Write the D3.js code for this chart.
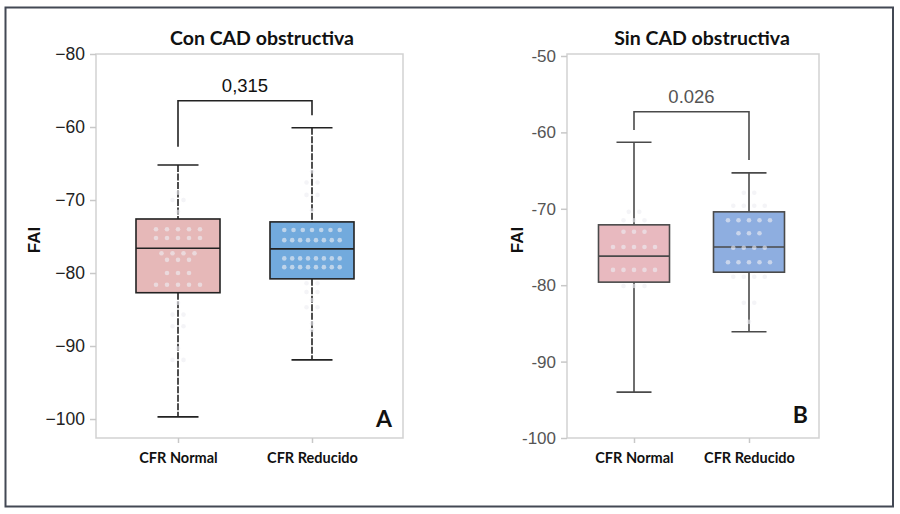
<!DOCTYPE html>
<html><head><meta charset="utf-8">
<script src="https://cdn.jsdelivr.net/npm/d3@7/dist/d3.min.js"></script>
<style>body{margin:0;background:#fff}svg{display:block}</style>
</head><body>
<svg id="c" width="900" height="514"></svg>
<script>
// ---- data ----
const categories = ["CFR Normal", "CFR Reducido"];
const titles = ["Con CAD obstructiva", "Sin CAD obstructiva"];
const panelLetters = ["A", "B"];
const pValues = ["0,315", "0.026"];
const tickValues = [-50, -60, -70, -80, -90, -100];
const tickLabelsA = ["\u221280", "\u221260", "\u221270", "\u221280", "\u221290", "\u2212100"];
const tickLabelsB = ["-50", "-60", "-70", "-80", "-90", "-100"];

// box statistics [CFR Normal, CFR Reducido]
const minA = [-99.7, -91.9], q1A = [-82.7, -80.8], medA = [-76.6, -76.7], q3A = [-72.6, -73.0], maxA = [-65.2, -60.1];
const minB = [-94.0, -86.1], q1B = [-79.6, -78.3], medB = [-76.2, -75.0], q3B = [-72.1, -70.4], maxB = [-61.3, -65.3];

// bracket: [top, left leg end, right leg end]
const bracketA = [-56.4, -62.7, -58.4];
const bracketB = [-57.3, -59.7, -63.6];

// jittered points
const pointsA_normal = [-69.0, -70.0, -70.0, -71.6,
  -74.0, -74.0, -74.0, -74.0, -74.0, -75.2, -75.2, -75.2, -75.2, -75.2,
  -77.3, -77.3, -77.3, -77.3, -78.2, -78.2, -78.2, -80.0, -80.0, -80.0,
  -81.6, -81.6, -81.6, -81.6, -81.6,
  -84.1, -85.7, -85.7, -87.3, -87.3, -90.3, -91.9, -91.9];
const pointsA_reducido = [-66.1, -67.6, -67.6, -69.3, -69.3, -71.4,
  -74.1, -74.1, -74.1, -74.1, -74.1, -74.1, -74.1,
  -75.5, -75.5, -75.5, -75.5, -75.5, -75.5, -75.5, -75.5,
  -78.0, -78.0, -78.0, -78.0, -78.0, -78.0, -78.0, -78.0,
  -79.2, -79.2, -79.2, -79.2, -79.2, -79.2, -79.2, -79.2,
  -81.4, -81.4, -82.6, -82.6, -83.7, -84.7, -84.7, -86.9, -87.8];
const pointsB_normal = [-70.4, -70.4, -71.5, -71.5, -71.5,
  -73.0, -73.0, -73.0, -75.0, -75.0, -75.0, -75.0, -75.0,
  -78.0, -78.0, -78.0, -78.0, -78.0, -80.1, -80.1, -80.1];
const pointsB_reducido = [-67.9, -67.9, -69.6, -69.6, -69.6, -69.6,
  -71.5, -71.5, -71.5, -71.5, -71.5, -73.2, -73.2, -73.2,
  -75.1, -75.1, -75.1, -75.1, -77.0, -77.0, -77.0, -77.0, -77.0,
  -78.9, -78.9, -78.9, -78.9, -82.3, -82.3, -84.8];

// ---- drawing ----
const svg = d3.select("#c");
svg.append("rect").attr("x", 5.5).attr("y", 7.5).attr("width", 887.5).attr("height", 499)
  .attr("fill", "none").attr("stroke", "#434854").attr("stroke-width", 2);

function panel(cfg) {
  const g = svg.append("g");
  const y = d3.scaleLinear().domain(cfg.domain).range([cfg.bottom, cfg.top]);
  const x = d3.scalePoint().domain(categories).range([cfg.left + cfg.gapL, cfg.right - cfg.gapR]);

  // frame
  g.append("rect").attr("x", cfg.left).attr("y", cfg.top).attr("width", cfg.right - cfg.left)
    .attr("height", cfg.bottom - cfg.top).attr("fill", "none").attr("stroke", "#d2d2d2").attr("stroke-width", 1.5);

  // y axis
  const ya = g.append("g").attr("transform", `translate(${cfg.left},0)`)
    .call(d3.axisLeft(y).tickValues(tickValues).tickSize(6).tickPadding(5)
      .tickFormat((d, i) => cfg.tickLabels[i]));
  ya.select(".domain").remove();
  ya.selectAll(".tick line").attr("stroke", "#c8c8c8").attr("stroke-width", 1.5);
  ya.selectAll(".tick text").attr("font-family", "Liberation Sans, Arial, sans-serif")
    .attr("font-size", cfg.tickSize).attr("fill", cfg.tickColor);

  // x axis
  const xa = g.append("g").attr("transform", `translate(0,${cfg.bottom})`)
    .call(d3.axisBottom(x).tickSize(5).tickPadding(10));
  xa.select(".domain").remove();
  xa.selectAll(".tick line").attr("stroke", "#c8c8c8").attr("stroke-width", 1.5);
  xa.selectAll(".tick text").attr("font-family", "Lato, sans-serif").attr("font-weight", 700)
    .attr("font-size", 14.5).attr("fill", "#111");

  const bw = cfg.boxW, cw = cfg.capW;
  categories.forEach((c, i) => {
    const cx = x(c);
    const lc = cfg.lineColor;
    // whisker
    g.append("line").attr("x1", cx).attr("x2", cx).attr("y1", y(cfg.max[i])).attr("y2", y(cfg.q3[i]))
      .attr("stroke", lc).attr("stroke-width", 1.6).attr("stroke-dasharray", cfg.dash);
    g.append("line").attr("x1", cx).attr("x2", cx).attr("y1", y(cfg.q1[i])).attr("y2", y(cfg.min[i]))
      .attr("stroke", lc).attr("stroke-width", 1.6).attr("stroke-dasharray", cfg.dash);
    [cfg.max[i], cfg.min[i]].forEach(v => g.append("line").attr("x1", cx - cw / 2).attr("x2", cx + cw / 2)
      .attr("y1", y(v)).attr("y2", y(v)).attr("stroke", lc).attr("stroke-width", 1.6));
    // box
    g.append("rect").attr("x", cx - bw / 2).attr("width", bw).attr("y", y(cfg.q3[i]))
      .attr("height", y(cfg.q1[i]) - y(cfg.q3[i])).attr("fill", cfg.colors[i])
      .attr("stroke", lc).attr("stroke-width", 1.6);
    g.append("line").attr("x1", cx - bw / 2).attr("x2", cx + bw / 2).attr("y1", y(cfg.med[i])).attr("y2", y(cfg.med[i]))
      .attr("stroke", lc).attr("stroke-width", 1.6);
    // points
    const pts = cfg.points[i];
    const groups = d3.groups(pts, v => v);
    const dots = [];
    groups.forEach(([v, arr]) => {
      const n = arr.length;
      const sp = n > 1 ? Math.min(cfg.spacing, bw * 0.66 / (n - 1)) : 0;
      arr.forEach((_, k) => dots.push({ v, dx: (k - (n - 1) / 2) * sp }));
    });
    g.selectAll(null).data(dots).join("circle")
      .attr("cx", d => cx + d.dx).attr("cy", d => y(d.v)).attr("r", 2.3)
      .attr("fill", "#eeeef2").attr("opacity", 0.62);
  });

  // bracket
  const b = cfg.bracket;
  const x0 = x(categories[0]), x1 = x(categories[1]);
  g.append("path").attr("d", `M${x0},${y(b[1])}V${y(b[0])}H${x1}V${y(b[2])}`)
    .attr("fill", "none").attr("stroke", cfg.lineColor).attr("stroke-width", 1.6);
  g.append("text").attr("x", (x0 + x1) / 2).attr("y", y(b[0]) - 9).attr("text-anchor", "middle")
    .attr("font-family", "Liberation Sans, Arial, sans-serif").attr("font-size", 18.5)
    .attr("fill", cfg.pColor).text(cfg.p);

  // title
  g.append("text").attr("x", cfg.titleX).attr("y", 45).attr("text-anchor", "middle")
    .attr("font-family", "Lato, sans-serif").attr("font-weight", 700).attr("font-size", 19.5)
    .attr("fill", "#111").text(cfg.title);
  // y label
  g.append("text").attr("transform", `translate(${cfg.labelX},240) rotate(-90)`).attr("text-anchor", "middle")
    .attr("font-family", "Liberation Sans, Arial, sans-serif").attr("font-weight", 700).attr("font-size", 17)
    .attr("fill", "#111").text("FAI");
  // letter
  g.append("text").attr("x", cfg.right - 11).attr("y", cfg.letterY).attr("text-anchor", "end")
    .attr("font-family", "Lato, sans-serif").attr("font-weight", 700).attr("font-size", 23)
    .attr("fill", "#111").text(cfg.letter);
}

panel({
  left: 96, right: 403, top: 54, bottom: 438, domain: [-102.6, -50], gapL: 82, gapR: 91,
  tickLabels: tickLabelsA, tickSize: 17.5, tickColor: "#222", lineColor: "#222", dash: "7,1.5",
  colors: ["#e6b8b8", "#72aadd"], boxW: 84, capW: 41, spacing: 11,
  min: minA, q1: q1A, med: medA, q3: q3A, max: maxA,
  points: [pointsA_normal, pointsA_reducido], bracket: bracketA, p: pValues[0], pColor: "#111",
  title: titles[0], titleX: 262, labelX: 40, letter: panelLetters[0], letterY: 427
});
panel({
  left: 567, right: 819, top: 54, bottom: 438, domain: [-100, -49.74], gapL: 67, gapR: 70,
  tickLabels: tickLabelsB, tickSize: 17, tickColor: "#555", lineColor: "#4a4a4a", dash: null,
  colors: ["#e8b9bf", "#8eaee0"], boxW: 71, capW: 35, spacing: 10.5,
  min: minB, q1: q1B, med: medB, q3: q3B, max: maxB,
  points: [pointsB_normal, pointsB_reducido], bracket: bracketB, p: pValues[1], pColor: "#555",
  title: titles[1], titleX: 702, labelX: 523, letter: panelLetters[1], letterY: 423
});
</script>
</body></html>
